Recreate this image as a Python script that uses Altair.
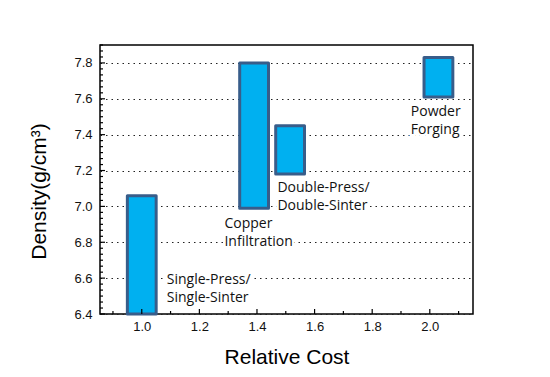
import altair as alt
import pandas as pd

# Bars (process regions)
processes = ["Single-Press/Single-Sinter", "Copper Infiltration", "Double-Press/Double-Sinter", "Powder Forging"]
cost_lo = [0.95, 1.34, 1.465, 1.98]
cost_hi = [1.05, 1.44, 1.565, 2.08]
dens_lo = [6.40, 6.99, 7.18, 7.61]
dens_hi = [7.06, 7.80, 7.45, 7.83]

# Annotation labels
label_text = ["Single-Press/\nSingle-Sinter", "Copper\nInfiltration", "Double-Press/\nDouble-Sinter", "Powder\nForging"]
label_x = [1.087, 1.287, 1.471, 1.934]
label_y = [6.567, 6.88, 7.078, 7.502]

# Axis ticks
x_major = [1.0, 1.2, 1.4, 1.6, 1.8, 2.0]
x_minor = [0.9, 1.1, 1.3, 1.5, 1.7, 1.9, 2.1]
y_major = [6.4, 6.6, 6.8, 7.0, 7.2, 7.4, 7.6, 7.8]
y_minor = [round(6.4 + k * 0.2 / 6, 4) for k in range(0, 46) if k % 6 != 0]

bars = pd.DataFrame({"p": processes, "x1": cost_lo, "x2": cost_hi, "y1": dens_lo, "y2": dens_hi})
labels = pd.DataFrame({"t": label_text, "x": label_x, "y": label_y})

xs = alt.Scale(domain=[0.855, 2.15], nice=False, zero=False)
ys = alt.Scale(domain=[6.4, 7.9], nice=False, zero=False)

xaxis = alt.Axis(values=x_major, format=".1f", ticks=False, domain=False, grid=False,
                 labelOverlap=False, labelFlush=False, labelBound=False,
                 labelFont="Liberation Sans", labelFontSize=13, labelColor="#111", labelPadding=6,
                 title="Relative Cost", titleFont="Liberation Sans", titleFontSize=21,
                 titleFontWeight="normal", titleColor="black", titleBaseline="alphabetic", titleY=49)
yaxis = alt.Axis(values=y_major, format=".1f", ticks=False, domain=False, grid=True,
                 labelOverlap=False, labelFlush=False, labelBound=False,
                 gridDash=[1.5, 4], gridColor="#222", gridWidth=1,
                 labelFont="Liberation Sans", labelFontSize=13, labelColor="#111", labelPadding=8,
                 title="Density(g/cm³)", titleFont="Liberation Sans", titleFontSize=21,
                 titleFontWeight="normal", titleColor="black", titleBaseline="alphabetic",
                 titleX=-55, titleY=146, titleAngle=270)


def X(f):
    return alt.X(f, scale=xs, axis=xaxis, title="Relative Cost")


def Y(f):
    return alt.Y(f, scale=ys, axis=yaxis, title="Density(g/cm³)")


rects = alt.Chart(bars).mark_rect(fill="#00B0F0", stroke="#385D8A", strokeWidth=3, strokeJoin="round").encode(
    x=X("x1:Q"), x2="x2:Q", y=Y("y1:Q"), y2="y2:Q",
)

txt_kw = dict(align="left", baseline="alphabetic", font="Open Sans", fontSize=14, lineBreak="\n", lineHeight=18)
halo = alt.Chart(labels).mark_text(stroke="white", strokeWidth=5, fill="white", **txt_kw).encode(
    x=X("x:Q"), y=Y("y:Q"), text="t:N")
text = alt.Chart(labels).mark_text(fill="#111", **txt_kw).encode(
    x=X("x:Q"), y=Y("y:Q"), text="t:N")

xmaj = alt.Chart(pd.DataFrame({"v": x_major})).mark_rule(color="black", strokeWidth=1.2).encode(
    x=X("v:Q"), y=alt.value(269), y2=alt.value(264))
xmin = alt.Chart(pd.DataFrame({"v": x_minor})).mark_rule(color="black", strokeWidth=1.2).encode(
    x=X("v:Q"), y=alt.value(269), y2=alt.value(266))
ymaj = alt.Chart(pd.DataFrame({"v": y_major})).mark_rule(color="black", strokeWidth=1.2).encode(
    y=Y("v:Q"), x=alt.value(0), x2=alt.value(5))
ymin = alt.Chart(pd.DataFrame({"v": y_minor})).mark_rule(color="black", strokeWidth=1.2).encode(
    y=Y("v:Q"), x=alt.value(0), x2=alt.value(3))

chart = alt.layer(rects, halo, text, xmaj, xmin, ymaj, ymin).properties(
    width=373, height=269,
    autosize=alt.AutoSizeParams(type="none"),
    padding={"left": 100, "top": 45, "right": 77, "bottom": 63},
    background="white",
).configure_view(stroke="black", strokeWidth=1.5)

chart.save("out.html", embed_options={"renderer": "svg", "actions": False})
